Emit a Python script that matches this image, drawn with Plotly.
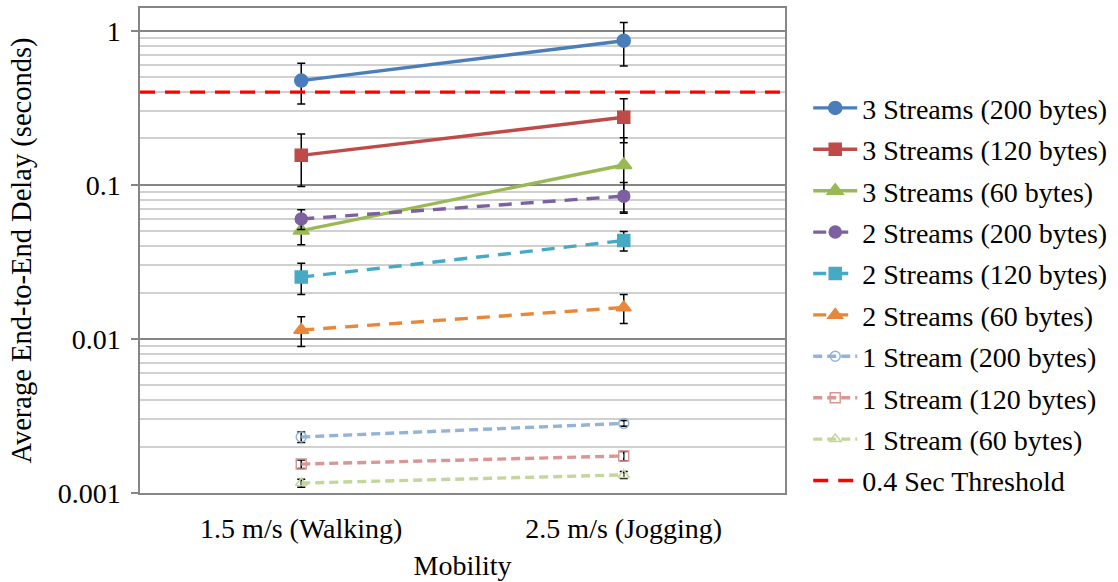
import plotly.graph_objects as go

# Mobility scenarios on the x axis
categories = ["1.5 m/s (Walking)", "2.5 m/s (Jogging)"]

# Average end-to-end delay (seconds) and error-bar half-widths per series
s3_200 = [0.475, 0.862]
s3_200_err = [0.14, 0.27]
s3_120 = [0.1555, 0.2746]
s3_120_err = [0.058, 0.087]
s3_60 = [0.0505, 0.1346]
s3_60_err = [0.0096, 0.068]
s2_200 = [0.0601, 0.0845]
s2_200_err = [0.0088, 0.019]
s2_120 = [0.0252, 0.0435]
s2_120_err = [0.0058, 0.0063]
s2_60 = [0.01143, 0.016]
s2_60_err = [0.0025, 0.0034]
s1_200 = [0.00231, 0.00283]
s1_200_err = [0.00018, 0.00012]
s1_120 = [0.00154, 0.00174]
s1_120_err = [0.0001, 0.00012]
s1_60 = [0.00116, 0.00131]
s1_60_err = [0.00007, 0.00007]

threshold = 0.4

FONT = "Liberation Serif, Times New Roman, serif"
x_pos = list(range(len(categories)))

series = [
    ("3 Streams (200 bytes)", s3_200, s3_200_err, "#4a7ebb", "solid", "circle", 13),
    ("3 Streams (120 bytes)", s3_120, s3_120_err, "#be4b48", "solid", "square", 12),
    ("3 Streams (60 bytes)", s3_60, s3_60_err, "#98b954", "solid", "triangle-up", 14),
    ("2 Streams (200 bytes)", s2_200, s2_200_err, "#7d60a0", "13px,9px", "circle", 12),
    ("2 Streams (120 bytes)", s2_120, s2_120_err, "#46aac5", "13px,9px", "square", 12),
    ("2 Streams (60 bytes)", s2_60, s2_60_err, "#e8873a", "13px,9px", "triangle-up", 13),
    ("1 Stream (200 bytes)", s1_200, s1_200_err, "#95b3d7", "9px,5px", "circle-open", 10),
    ("1 Stream (120 bytes)", s1_120, s1_120_err, "#d99694", "9px,5px", "square-open", 10),
    ("1 Stream (60 bytes)", s1_60, s1_60_err, "#c3d69b", "9px,5px", "triangle-up-open", 10),
]

fig = go.Figure()

for i, (name, vals, err, color, dash, symbol, size) in enumerate(series):
    fig.add_trace(go.Scatter(
        x=x_pos, y=vals, name=name, mode="lines+markers",
        legendgroup=f"g{i}",
        line=dict(color=color, width=3.4, dash=dash),
        marker=dict(symbol=symbol, size=size, color=color,
                    line=dict(color=color, width=1.5)),
        error_y=dict(type="data", array=err, visible=True,
                     color="black", thickness=1.5, width=4),
    ))

fig.add_trace(go.Scatter(
    x=[-0.5, 1.5], y=[threshold, threshold], name="0.4 Sec Threshold",
    mode="lines", legendgroup="thr",
    line=dict(color="#ff0000", width=3.4, dash="15px,10px"),
))

fig.update_layout(
    width=1118, height=582,
    margin=dict(l=140, r=325, t=6, b=88),
    paper_bgcolor="white", plot_bgcolor="white",
    font=dict(family=FONT, size=24, color="black"),
    showlegend=True,
    legend=dict(x=1.036, xanchor="left", y=0.845, yanchor="top",
                font=dict(family=FONT, size=28), tracegroupgap=2,
                itemwidth=44, bgcolor="rgba(0,0,0,0)"),
    xaxis=dict(
        range=[-0.5, 1.5], tickmode="array", tickvals=x_pos, ticktext=categories,
        showgrid=False, zeroline=False, ticks="",
        showline=True, mirror=True, linecolor="#868686", linewidth=1.5,
        ticklabelstandoff=10,
        title=dict(text="Mobility", standoff=12, font=dict(family=FONT, size=28)),
        tickfont=dict(family=FONT, size=28),
    ),
    yaxis=dict(
        type="log", range=[-3, 0.148],
        tickvals=[0.001, 0.01, 0.1, 1], ticktext=["0.001", "0.01", "0.1", "1"],
        ticks="outside", ticklen=7, tickcolor="#868686", tickwidth=1.5,
        ticklabelstandoff=5,
        showgrid=True, gridcolor="#868686", gridwidth=1.5,
        minor=dict(dtick="D1", showgrid=True, gridcolor="#d0d0d0", gridwidth=1.5),
        zeroline=False,
        showline=True, mirror=True, linecolor="#868686", linewidth=1.5,
        title=dict(text="Average End-to-End Delay (seconds)", standoff=18,
                   font=dict(family=FONT, size=28.5)),
        tickfont=dict(family=FONT, size=28),
    ),
)

fig.write_html("out.html")
